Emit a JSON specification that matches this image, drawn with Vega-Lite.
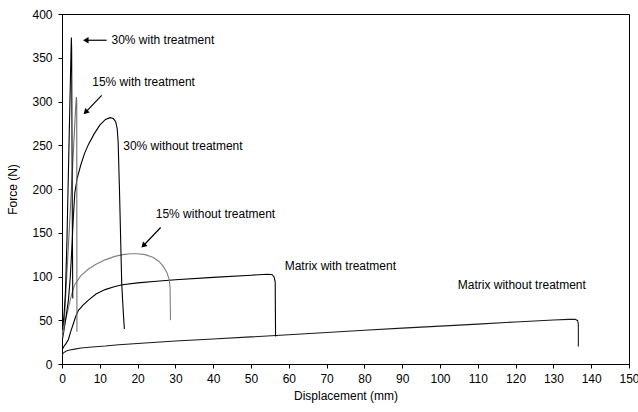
{
  "$schema": "https://vega.github.io/schema/vega-lite/v6.json",
  "width": 567,
  "height": 350,
  "autosize": {"type": "none"},
  "padding": {"left": 62, "top": 14, "right": 9, "bottom": 48},
  "background": "#ffffff",
  "config": {
    "font": "Liberation Sans",
    "view": {"stroke": "#000000", "strokeWidth": 1},
    "axis": {"grid": false, "domainColor": "#000000", "tickColor": "#000000", "labelColor": "#000000", "titleColor": "#000000", "labelFont": "Liberation Sans", "titleFont": "Liberation Sans", "labelFontSize": 12, "titleFontSize": 12, "titleFontWeight": "normal", "tickSize": 4}
  },
  "datasets": {
    "curves": [
      {"s": "Matrix without treatment", "i": 0, "x": 0, "f": 11},
      {"s": "Matrix without treatment", "i": 1, "x": 0.5, "f": 13},
      {"s": "Matrix without treatment", "i": 2, "x": 1, "f": 14.5},
      {"s": "Matrix without treatment", "i": 3, "x": 2, "f": 16},
      {"s": "Matrix without treatment", "i": 4, "x": 3.4, "f": 17},
      {"s": "Matrix without treatment", "i": 5, "x": 5, "f": 18.3},
      {"s": "Matrix without treatment", "i": 6, "x": 8, "f": 19.5},
      {"s": "Matrix without treatment", "i": 7, "x": 11.4, "f": 20.5},
      {"s": "Matrix without treatment", "i": 8, "x": 15, "f": 22},
      {"s": "Matrix without treatment", "i": 9, "x": 20, "f": 23.5},
      {"s": "Matrix without treatment", "i": 10, "x": 30, "f": 26.3},
      {"s": "Matrix without treatment", "i": 11, "x": 40, "f": 28.6},
      {"s": "Matrix without treatment", "i": 12, "x": 50, "f": 31},
      {"s": "Matrix without treatment", "i": 13, "x": 60, "f": 33.5},
      {"s": "Matrix without treatment", "i": 14, "x": 70, "f": 36},
      {"s": "Matrix without treatment", "i": 15, "x": 80, "f": 38.5},
      {"s": "Matrix without treatment", "i": 16, "x": 90, "f": 41},
      {"s": "Matrix without treatment", "i": 17, "x": 100, "f": 43.3},
      {"s": "Matrix without treatment", "i": 18, "x": 110, "f": 45.6},
      {"s": "Matrix without treatment", "i": 19, "x": 120, "f": 48},
      {"s": "Matrix without treatment", "i": 20, "x": 130, "f": 50.3},
      {"s": "Matrix without treatment", "i": 21, "x": 134, "f": 51},
      {"s": "Matrix without treatment", "i": 22, "x": 135.8, "f": 51},
      {"s": "Matrix without treatment", "i": 23, "x": 136.4, "f": 49.5},
      {"s": "Matrix without treatment", "i": 24, "x": 136.6, "f": 46},
      {"s": "Matrix without treatment", "i": 25, "x": 136.6, "f": 20},

      {"s": "Matrix with treatment", "i": 0, "x": 0, "f": 16},
      {"s": "Matrix with treatment", "i": 1, "x": 0.5, "f": 20},
      {"s": "Matrix with treatment", "i": 2, "x": 1, "f": 23},
      {"s": "Matrix with treatment", "i": 3, "x": 1.7, "f": 28},
      {"s": "Matrix with treatment", "i": 4, "x": 2.3, "f": 37},
      {"s": "Matrix with treatment", "i": 5, "x": 3, "f": 46},
      {"s": "Matrix with treatment", "i": 6, "x": 3.6, "f": 54},
      {"s": "Matrix with treatment", "i": 7, "x": 4.3, "f": 61},
      {"s": "Matrix with treatment", "i": 8, "x": 5.5, "f": 67},
      {"s": "Matrix with treatment", "i": 9, "x": 7, "f": 73},
      {"s": "Matrix with treatment", "i": 10, "x": 9, "f": 80},
      {"s": "Matrix with treatment", "i": 11, "x": 11.4, "f": 85},
      {"s": "Matrix with treatment", "i": 12, "x": 14, "f": 88.5},
      {"s": "Matrix with treatment", "i": 13, "x": 16, "f": 90.5},
      {"s": "Matrix with treatment", "i": 14, "x": 20, "f": 92.7},
      {"s": "Matrix with treatment", "i": 15, "x": 25, "f": 94.6},
      {"s": "Matrix with treatment", "i": 16, "x": 30, "f": 96.2},
      {"s": "Matrix with treatment", "i": 17, "x": 40, "f": 99},
      {"s": "Matrix with treatment", "i": 18, "x": 50, "f": 101.5},
      {"s": "Matrix with treatment", "i": 19, "x": 54.5, "f": 102.6},
      {"s": "Matrix with treatment", "i": 20, "x": 55.6, "f": 102},
      {"s": "Matrix with treatment", "i": 21, "x": 56.1, "f": 99.5},
      {"s": "Matrix with treatment", "i": 22, "x": 56.4, "f": 94},
      {"s": "Matrix with treatment", "i": 23, "x": 56.5, "f": 31.5},

      {"s": "15% without treatment", "i": 0, "x": 0, "f": 35},
      {"s": "15% without treatment", "i": 1, "x": 0.5, "f": 42},
      {"s": "15% without treatment", "i": 2, "x": 1, "f": 51},
      {"s": "15% without treatment", "i": 3, "x": 1.7, "f": 64},
      {"s": "15% without treatment", "i": 4, "x": 2.5, "f": 79},
      {"s": "15% without treatment", "i": 5, "x": 3.4, "f": 91},
      {"s": "15% without treatment", "i": 6, "x": 5, "f": 101},
      {"s": "15% without treatment", "i": 7, "x": 7, "f": 108.5},
      {"s": "15% without treatment", "i": 8, "x": 9, "f": 114},
      {"s": "15% without treatment", "i": 9, "x": 11.4, "f": 119},
      {"s": "15% without treatment", "i": 10, "x": 14, "f": 123},
      {"s": "15% without treatment", "i": 11, "x": 16, "f": 125},
      {"s": "15% without treatment", "i": 12, "x": 18, "f": 126},
      {"s": "15% without treatment", "i": 13, "x": 20, "f": 126},
      {"s": "15% without treatment", "i": 14, "x": 22, "f": 125},
      {"s": "15% without treatment", "i": 15, "x": 24, "f": 122},
      {"s": "15% without treatment", "i": 16, "x": 25.6, "f": 117.5},
      {"s": "15% without treatment", "i": 17, "x": 26.8, "f": 111.5},
      {"s": "15% without treatment", "i": 18, "x": 27.8, "f": 104},
      {"s": "15% without treatment", "i": 19, "x": 28.4, "f": 96},
      {"s": "15% without treatment", "i": 20, "x": 28.6, "f": 86},
      {"s": "15% without treatment", "i": 21, "x": 28.7, "f": 50},

      {"s": "30% without treatment", "i": 0, "x": 0, "f": 25},
      {"s": "30% without treatment", "i": 1, "x": 0.5, "f": 38},
      {"s": "30% without treatment", "i": 2, "x": 1, "f": 52},
      {"s": "30% without treatment", "i": 3, "x": 1.7, "f": 73},
      {"s": "30% without treatment", "i": 4, "x": 2.2, "f": 100},
      {"s": "30% without treatment", "i": 5, "x": 2.6, "f": 132},
      {"s": "30% without treatment", "i": 6, "x": 3, "f": 168},
      {"s": "30% without treatment", "i": 7, "x": 3.4, "f": 196},
      {"s": "30% without treatment", "i": 8, "x": 4, "f": 212},
      {"s": "30% without treatment", "i": 9, "x": 5, "f": 228},
      {"s": "30% without treatment", "i": 10, "x": 6, "f": 241},
      {"s": "30% without treatment", "i": 11, "x": 7, "f": 251},
      {"s": "30% without treatment", "i": 12, "x": 8.5, "f": 263},
      {"s": "30% without treatment", "i": 13, "x": 10, "f": 273},
      {"s": "30% without treatment", "i": 14, "x": 11.5, "f": 279.5},
      {"s": "30% without treatment", "i": 15, "x": 12.7, "f": 281.5},
      {"s": "30% without treatment", "i": 16, "x": 13.6, "f": 280.5},
      {"s": "30% without treatment", "i": 17, "x": 14.2, "f": 277},
      {"s": "30% without treatment", "i": 18, "x": 14.6, "f": 269},
      {"s": "30% without treatment", "i": 19, "x": 14.85, "f": 254},
      {"s": "30% without treatment", "i": 20, "x": 15.2, "f": 200},
      {"s": "30% without treatment", "i": 21, "x": 15.5, "f": 146},
      {"s": "30% without treatment", "i": 22, "x": 15.8, "f": 92},
      {"s": "30% without treatment", "i": 23, "x": 16.2, "f": 60},
      {"s": "30% without treatment", "i": 24, "x": 16.5, "f": 40},

      {"s": "15% with treatment", "i": 0, "x": 0, "f": 30},
      {"s": "15% with treatment", "i": 1, "x": 0.5, "f": 40},
      {"s": "15% with treatment", "i": 2, "x": 1, "f": 80},
      {"s": "15% with treatment", "i": 3, "x": 2, "f": 160},
      {"s": "15% with treatment", "i": 4, "x": 3, "f": 242},
      {"s": "15% with treatment", "i": 5, "x": 3.6, "f": 292},
      {"s": "15% with treatment", "i": 6, "x": 3.8, "f": 305},
      {"s": "15% with treatment", "i": 7, "x": 3.9, "f": 300},
      {"s": "15% with treatment", "i": 8, "x": 3.95, "f": 37},

      {"s": "30% with treatment", "i": 0, "x": 0, "f": 40},
      {"s": "30% with treatment", "i": 1, "x": 0.3, "f": 45},
      {"s": "30% with treatment", "i": 2, "x": 0.6, "f": 60},
      {"s": "30% with treatment", "i": 3, "x": 0.9, "f": 81},
      {"s": "30% with treatment", "i": 4, "x": 1.3, "f": 140},
      {"s": "30% with treatment", "i": 5, "x": 1.7, "f": 220},
      {"s": "30% with treatment", "i": 6, "x": 2.1, "f": 300},
      {"s": "30% with treatment", "i": 7, "x": 2.4, "f": 360},
      {"s": "30% with treatment", "i": 8, "x": 2.47, "f": 373},
      {"s": "30% with treatment", "i": 9, "x": 2.55, "f": 360},
      {"s": "30% with treatment", "i": 10, "x": 2.65, "f": 250},
      {"s": "30% with treatment", "i": 11, "x": 2.75, "f": 150},
      {"s": "30% with treatment", "i": 12, "x": 2.85, "f": 75}
    ],
    "labels": [
      {"name": "30% with treatment", "x": 13.1, "f": 370},
      {"name": "15% with treatment", "x": 8.0, "f": 322},
      {"name": "30% without treatment", "x": 16.2, "f": 249},
      {"name": "15% without treatment", "x": 24.8, "f": 172},
      {"name": "Matrix with treatment", "x": 58.9, "f": 112},
      {"name": "Matrix without treatment", "x": 104.7, "f": 90.6}
    ],
    "arrows": [
      {"name": "30% with treatment", "x": 11.8, "f": 370, "x2": 6.3, "f2": 370},
      {"name": "15% with treatment", "x": 10.5, "f": 307, "x2": 6.4, "f2": 288.5},
      {"name": "15% without treatment", "x": 26.1, "f": 156, "x2": 21.7, "f2": 136}
    ]
  },
  "encoding": {
    "x": {"field": "x", "type": "quantitative", "scale": {"domain": [0, 150], "nice": false}, "axis": {"title": "Displacement (mm)", "values": [0,10,20,30,40,50,60,70,80,90,100,110,120,130,140,150], "labelPadding": 5, "titlePadding": 6, "labelFlush": false}},
    "y": {"field": "f", "type": "quantitative", "scale": {"domain": [0, 400], "nice": false}, "axis": {"title": "Force (N)", "values": [0,50,100,150,200,250,300,350,400], "labelPadding": 6, "titlePadding": 12, "labelFlush": false}}
  },
  "layer": [
    {
      "data": {"name": "curves"},
      "mark": {"type": "line", "strokeWidth": 1.1, "clip": true},
      "encoding": {
        "color": {"field": "s", "type": "nominal", "legend": null, "scale": {"domain": ["Matrix without treatment", "Matrix with treatment", "15% without treatment", "30% without treatment", "15% with treatment", "30% with treatment"], "range": ["#1a1a1a", "#000000", "#7f7f7f", "#000000", "#6e6e6e", "#000000"]}},
        "order": {"field": "i", "type": "quantitative"}
      }
    },
    {
      "data": {"name": "labels"},
      "mark": {"type": "text", "align": "left", "baseline": "middle", "fontSize": 12, "font": "Liberation Sans", "color": "#000000"},
      "encoding": {"text": {"field": "name"}}
    },
    {
      "data": {"name": "arrows"},
      "mark": {"type": "rule", "color": "#000000", "strokeWidth": 1.2},
      "encoding": {"x2": {"field": "x2"}, "y2": {"field": "f2"}}
    },
    {
      "data": {"name": "arrows"},
      "transform": [{"filter": "datum.name == '30% with treatment'"}],
      "mark": {"type": "point", "shape": "triangle-left", "filled": true, "color": "#000000", "size": 40, "opacity": 1},
      "encoding": {"x": {"field": "x2", "type": "quantitative"}, "y": {"field": "f2", "type": "quantitative"}}
    },
    {
      "data": {"name": "arrows"},
      "transform": [{"filter": "datum.name != '30% with treatment'"}],
      "mark": {"type": "point", "shape": "triangle", "angle": 225, "filled": true, "color": "#000000", "size": 40, "opacity": 1},
      "encoding": {"x": {"field": "x2", "type": "quantitative"}, "y": {"field": "f2", "type": "quantitative"}}
    }
  ]
}
